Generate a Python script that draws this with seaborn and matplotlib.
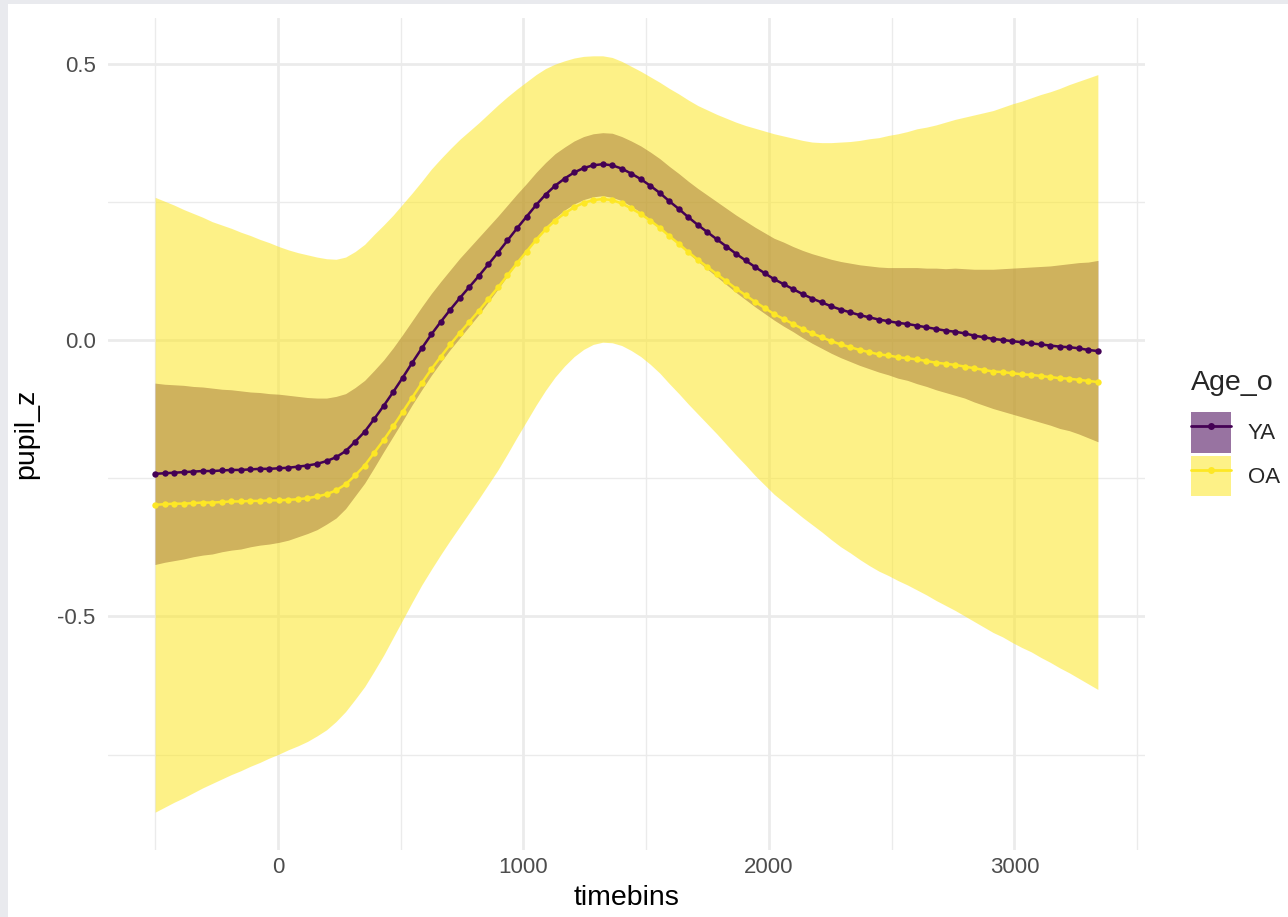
import numpy as np
import pandas as pd
import matplotlib
matplotlib.use("Agg")
import matplotlib.pyplot as plt
from matplotlib.patches import Patch, Rectangle
from matplotlib.lines import Line2D
import seaborn as sns

# ---------------- data ----------------
timebins = np.linspace(-500, 3340, 100)

ya_fit = [-0.242, -0.241, -0.240, -0.239, -0.238, -0.237, -0.237, -0.236, -0.235, -0.235,
          -0.234, -0.233, -0.233, -0.232, -0.231, -0.229, -0.227, -0.224, -0.219, -0.212,
          -0.201, -0.184, -0.166, -0.143, -0.119, -0.094, -0.068, -0.041, -0.015, 0.010,
          0.033, 0.055, 0.076, 0.096, 0.116, 0.137, 0.158, 0.180, 0.202, 0.223,
          0.244, 0.263, 0.279, 0.292, 0.303, 0.311, 0.316, 0.318, 0.316, 0.310,
          0.301, 0.291, 0.279, 0.266, 0.251, 0.237, 0.222, 0.208, 0.195, 0.182,
          0.169, 0.156, 0.144, 0.132, 0.121, 0.110, 0.101, 0.092, 0.083, 0.075,
          0.068, 0.061, 0.055, 0.050, 0.045, 0.041, 0.037, 0.034, 0.031, 0.029,
          0.026, 0.023, 0.020, 0.017, 0.015, 0.012, 0.008, 0.005, 0.002, 0.000,
          -0.002, -0.004, -0.006, -0.008, -0.010, -0.012, -0.013, -0.015, -0.018, -0.020]

ya_ci = [0.164, 0.161, 0.159, 0.157, 0.154, 0.152, 0.150, 0.147, 0.145, 0.143,
         0.140, 0.138, 0.136, 0.134, 0.131, 0.127, 0.123, 0.119, 0.114, 0.110,
         0.104, 0.098, 0.093, 0.088, 0.083, 0.080, 0.078, 0.076, 0.075, 0.074,
         0.073, 0.072, 0.072, 0.071, 0.070, 0.068, 0.066, 0.064, 0.062, 0.060,
         0.059, 0.058, 0.058, 0.057, 0.057, 0.057, 0.057, 0.057, 0.058, 0.058,
         0.059, 0.060, 0.061, 0.062, 0.063, 0.064, 0.065, 0.066, 0.067, 0.068,
         0.069, 0.070, 0.071, 0.072, 0.073, 0.074, 0.076, 0.077, 0.079, 0.081,
         0.083, 0.085, 0.087, 0.089, 0.091, 0.093, 0.095, 0.097, 0.100, 0.102,
         0.105, 0.107, 0.110, 0.112, 0.115, 0.117, 0.120, 0.123, 0.126, 0.129,
         0.132, 0.135, 0.138, 0.141, 0.144, 0.148, 0.151, 0.155, 0.159, 0.164]

oa_fit = [-0.298, -0.297, -0.296, -0.296, -0.295, -0.294, -0.294, -0.293, -0.292, -0.292,
          -0.291, -0.291, -0.290, -0.290, -0.289, -0.288, -0.286, -0.283, -0.279, -0.272,
          -0.261, -0.245, -0.227, -0.204, -0.181, -0.156, -0.130, -0.104, -0.078, -0.053,
          -0.030, -0.008, 0.013, 0.033, 0.053, 0.074, 0.095, 0.117, 0.139, 0.160,
          0.181, 0.200, 0.216, 0.229, 0.240, 0.248, 0.253, 0.255, 0.253, 0.247,
          0.238, 0.228, 0.216, 0.203, 0.188, 0.174, 0.159, 0.145, 0.132, 0.119,
          0.106, 0.093, 0.081, 0.069, 0.058, 0.047, 0.038, 0.029, 0.020, 0.012,
          0.005, -0.002, -0.008, -0.013, -0.018, -0.022, -0.026, -0.028, -0.031, -0.033,
          -0.035, -0.038, -0.041, -0.043, -0.045, -0.048, -0.051, -0.054, -0.057, -0.058,
          -0.060, -0.062, -0.063, -0.065, -0.067, -0.069, -0.070, -0.072, -0.074, -0.076]

oa_ci = [0.556, 0.548, 0.540, 0.532, 0.524, 0.516, 0.508, 0.501, 0.494, 0.487,
         0.480, 0.473, 0.466, 0.459, 0.452, 0.446, 0.440, 0.433, 0.426, 0.418,
         0.411, 0.405, 0.400, 0.395, 0.389, 0.382, 0.376, 0.370, 0.365, 0.362,
         0.358, 0.354, 0.350, 0.345, 0.340, 0.335, 0.330, 0.323, 0.315, 0.307,
         0.299, 0.291, 0.283, 0.276, 0.270, 0.265, 0.261, 0.259, 0.258, 0.257,
         0.257, 0.258, 0.260, 0.263, 0.267, 0.271, 0.275, 0.279, 0.284, 0.289,
         0.295, 0.301, 0.307, 0.314, 0.320, 0.326, 0.331, 0.336, 0.341, 0.346,
         0.352, 0.359, 0.366, 0.372, 0.379, 0.386, 0.392, 0.398, 0.404, 0.410,
         0.417, 0.423, 0.430, 0.437, 0.444, 0.451, 0.458, 0.465, 0.472, 0.479,
         0.487, 0.494, 0.501, 0.509, 0.516, 0.524, 0.532, 0.540, 0.548, 0.556]

groups = ["YA", "OA"]
group_colors = {"YA": "#440154", "OA": "#FDE725"}
x_ticks = [0, 1000, 2000, 3000]
x_tick_labels = ["0", "1000", "2000", "3000"]
x_minor = [-500, 500, 1500, 2500, 3500]
y_ticks = [-0.5, 0.0, 0.5]
y_tick_labels = ["-0.5", "0.0", "0.5"]
y_minor = [-0.75, -0.25, 0.25]

# ---------------- assemble ----------------
frames = []
for g, fit, ci in [("YA", ya_fit, ya_ci), ("OA", oa_fit, oa_ci)]:
    fit = np.asarray(fit); ci = np.asarray(ci)
    frames.append(pd.DataFrame({"timebins": timebins, "pupil_z": fit,
                                "lo": fit - ci, "hi": fit + ci, "Age_o": g}))
df = pd.concat(frames, ignore_index=True)

sns.set_theme(style="white")
plt.rcParams["font.family"] = ["Liberation Sans", "DejaVu Sans"]
plt.rcParams["axes.unicode_minus"] = False

W, H = 1288, 917
fig = plt.figure(figsize=(W / 100, H / 100), dpi=100, facecolor="white")
ax = fig.add_axes([108 / W, 1 - 850 / H, (1145 - 108) / W, (850 - 18) / H])
ax.set_facecolor("white")

# screenshot frame
fig.patches.append(Rectangle((0, 1 - 4 / H), 1, 4 / H, transform=fig.transFigure,
                             facecolor="#E9EAEE", edgecolor="none", zorder=-5))
fig.patches.append(Rectangle((0, 0), 8 / W, 1, transform=fig.transFigure,
                             facecolor="#E9EAEE", edgecolor="none", zorder=-5))

alpha = 0.55
for g in groups:
    sub = df[df["Age_o"] == g]
    ax.fill_between(sub["timebins"], sub["lo"], sub["hi"], color=group_colors[g],
                    alpha=alpha, linewidth=0, zorder=2)

sns.lineplot(data=df, x="timebins", y="pupil_z", hue="Age_o", hue_order=groups,
             palette=group_colors, estimator=None, sort=False, legend=False,
             marker="o", markersize=4.6, markeredgewidth=0, linewidth=1.8,
             ax=ax, zorder=3)

# limits with ggplot-style 5% expansion
xr = df["timebins"].max() - df["timebins"].min()
ax.set_xlim(df["timebins"].min() - 0.05 * xr, df["timebins"].max() + 0.05 * xr)
ymin, ymax = df["lo"].min(), df["hi"].max()
yr = ymax - ymin
ax.set_ylim(ymin - 0.05 * yr, ymax + 0.05 * yr)

ax.set_xticks(x_ticks, labels=x_tick_labels)
ax.set_yticks(y_ticks, labels=y_tick_labels)
ax.set_xticks(x_minor, minor=True)
ax.set_yticks(y_minor, minor=True)
ax.grid(which="major", color="#EBEBEB", linewidth=2.0, zorder=0)
ax.grid(which="minor", color="#EBEBEB", linewidth=1.0, zorder=0)
ax.set_axisbelow(True)
for s in ax.spines.values():
    s.set_visible(False)
ax.tick_params(axis="both", which="both", length=0, labelsize=16, labelcolor="#4D4D4D")
ax.tick_params(axis="y", pad=9)
ax.tick_params(axis="x", pad=5)

ax.set_xlabel("timebins", fontsize=20.5, color="black", labelpad=5)
ax.set_ylabel("pupil_z", fontsize=20.5, color="black", labelpad=13)

# legend (ggplot-like keys: filled box + line with point)
handles = []
for g in groups:
    box = Patch(facecolor=group_colors[g], alpha=alpha, edgecolor="none")
    ln = Line2D([], [], color=group_colors[g], marker="o", markersize=5,
                markeredgewidth=0, linewidth=2)
    handles.append((box, ln))
leg = fig.legend(handles, groups, title="Age_o", loc="center left",
                 bbox_to_anchor=(1180 / W, 1 - 433 / H), frameon=False,
                 fontsize=16, title_fontsize=20.5, handlelength=1.8,
                 handleheight=2.42, labelspacing=0.15, handletextpad=0.75,
                 borderpad=0, alignment="left")
leg._legend_box.sep = 12

fig.savefig("out.png", dpi=100, facecolor="white")
